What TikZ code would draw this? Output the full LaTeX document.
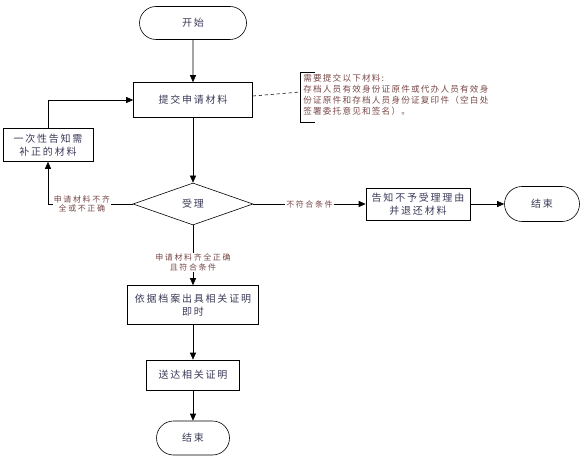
\documentclass[tikz,border=0pt]{standalone}
\usepackage{fontspec}
\setmainfont{Noto Sans CJK SC}
\newfontfamily\boxfont[LetterSpace=18]{Noto Sans CJK SC}
\newfontfamily\labelfont[LetterSpace=20]{Noto Sans CJK SC}
\newfontfamily\notefont[LetterSpace=14]{Noto Sans CJK SC}
\usepackage{tikz}
\usetikzlibrary{shapes.geometric, shapes.misc, positioning, arrows, arrows.meta}
\usepackage{xcolor}
\definecolor{boxtext}{HTML}{3A3A58}
\definecolor{labeltext}{HTML}{7A4848}

\begin{document}
\begin{tikzpicture}[
    x=1pt, y=-1pt,
    ->,
    >={Triangle[length=7pt,width=6pt]},
    semithick,
    font=\boxfont\fontsize{10}{12.5}\selectfont
]

\tikzstyle{terminal}=[
    draw=black, rounded rectangle, inner sep=0pt,
    minimum width=1.5cm, minimum height=33pt, text=boxtext
]
\tikzstyle{process}=[
    draw=black, rectangle, inner sep=2pt, align=center, text=boxtext
]
\tikzstyle{decision}=[
    draw=black, diamond, inner sep=0pt, aspect=2.86,
    minimum width=120pt, minimum height=42pt, text=boxtext
]
\tikzstyle{cond}=[
    fill=white, inner sep=1pt, align=center, text=labeltext,
    font=\labelfont\fontsize{8}{9.5}\selectfont
]

\useasboundingbox (0,0) rectangle (584,465);

\node[terminal, minimum width=107pt] (start) at (193,23) {开始};
\node[process, minimum width=119pt, minimum height=35pt] (submit) at (193,100) {提交申请材料};
\node[process, minimum width=90pt, minimum height=33pt] (notify) at (48,145) {一次性告知需\\补正的材料};
\node[decision] (accept) at (193,204) {受理};
\node[process, minimum width=104pt, minimum height=32pt] (reject) at (418,204) {告知不予受理理由\\并退还材料};
\node[terminal, minimum width=75pt, minimum height=35pt] (endA) at (542,204) {结束};
\node[process, minimum width=131pt, minimum height=39pt] (issue) at (193,305) {依据档案出具相关证明\\即时};
\node[process, minimum width=93pt, minimum height=30pt] (deliver) at (193,375) {送达相关证明};
\node[terminal, minimum width=73pt, minimum height=34pt] (endB) at (193,438) {结束};

% note on the materials
\coordinate (noteTop) at (300,72);
\coordinate (noteBot) at (300,122);
\draw[-] ([xshift=15pt]noteTop) -- (noteTop) -- (noteBot) -- ([xshift=15pt]noteBot);
\node[anchor=north west, align=left, inner sep=0pt, text=labeltext,
      font=\notefont\fontsize{8.6}{11}\selectfont] (note) at (303,74)
    {需要提交以下材料:\\存档人员有效身份证原件或代办人员有效身\\份证原件和存档人员身份证复印件（空白处\\签署委托意见和签名）。};
\coordinate (noteLink) at (300,92);
\draw[-, dashed] ([yshift=4pt]submit.east) -- (noteLink);

\path
(start) edge (submit)
(submit) edge (accept)
(accept) edge node[cond] {不符合条件} (reject)
(reject) edge (endA)
(accept) edge node[cond, pos=0.62] {申请材料齐全正确\\且符合条件} (issue)
(issue) edge (deliver)
(deliver) edge (endB);

\draw (accept.west) -| node[cond, pos=0.3] {申请材料不齐\\全或不正确} (notify.south);
\draw (notify.north) |- (submit.west);

\end{tikzpicture}
\end{document}
